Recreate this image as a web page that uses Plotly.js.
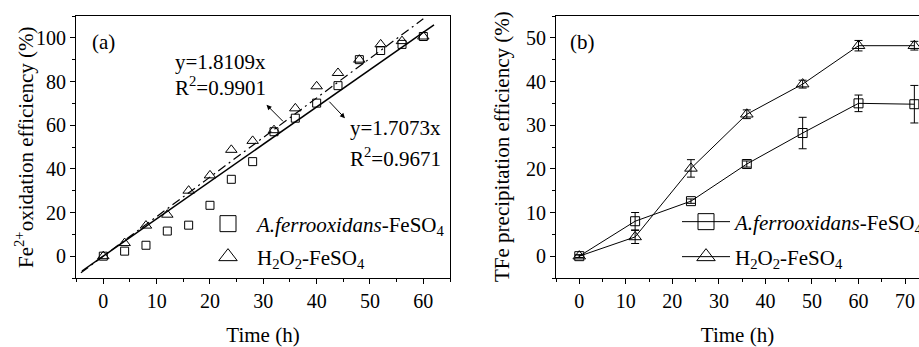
<!DOCTYPE html>
<html><head><meta charset="utf-8">
<script src="https://cdn.plot.ly/plotly-3.0.1.min.js"></script>
<style>html,body{margin:0;padding:0;background:#fff}#chart{width:919px;height:347px}</style>
</head><body><div id="chart"></div>
<script>
// ---- panel (a) data ----
const timeA = [0, 4, 8, 12, 16, 20, 24, 28, 32, 36, 40, 44, 48, 52, 56, 60];
const bioA  = [0, 2.3, 5.0, 11.5, 14.2, 23.3, 35.2, 43.3, 57.0, 63.2, 70.1, 78.1, 90.0, 94.2, 97.0, 100.6];
const h2o2A = [0, 6.0, 14.0, 19.0, 30.0, 37.0, 48.7, 52.8, 57.7, 67.7, 77.8, 83.9, 90.0, 97.0, 98.5, 100.6];
const fitBioX = [-4, 62];
const fitBioY = [-6.8, 105.9];
const fitH2X  = [-4.2, 60];
const fitH2Y  = [-7.6, 108.7];
// ---- panel (b) data ----
const timeB    = [0, 12, 24, 36, 48, 60, 72];
const bioB     = [0, 8.0, 12.6, 21.1, 28.2, 35.0, 34.8];
const bioBErr  = [0.3, 2.0, 0.5, 0.7, 3.6, 1.9, 4.3];
const h2o2B    = [0, 4.4, 20.1, 32.5, 39.4, 48.2, 48.2];
const h2o2BErr = [0.3, 1.5, 2.0, 1.0, 0.9, 1.2, 1.0];
// ---- labels ----
const nameBio = '<i>A.ferrooxidans</i>-FeSO<sub>4</sub>';
const nameH2  = 'H<sub>2</sub>O<sub>2</sub>-FeSO<sub>4</sub>';
const yTitleA = 'Fe<sup>2+</sup>oxidation efficiency (%)';
const yTitleB = 'TFe precipitation efficiency (%)';
const xTitle  = 'Time (h)';

const F = 'Liberation Serif, Times New Roman, serif';
const K = '#000';

const traces = [
  // panel a
  {x: fitBioX, y: fitBioY, mode: 'lines', line: {color: K, width: 1.5}, showlegend: false, xaxis: 'x', yaxis: 'y', hoverinfo: 'skip'},
  {x: fitH2X, y: fitH2Y, mode: 'lines', line: {color: K, width: 1.2, dash: '9px,4px,2px,4px'}, showlegend: false, xaxis: 'x', yaxis: 'y', hoverinfo: 'skip'},
  {x: timeA, y: bioA, mode: 'markers', marker: {symbol: 'square-open', size: 8, color: K, line: {width: 1, color: K}}, showlegend: false, xaxis: 'x', yaxis: 'y'},
  {x: timeA, y: h2o2A, mode: 'markers', marker: {symbol: 'triangle-up-open', size: 10, color: K, line: {width: 1, color: K}}, showlegend: false, xaxis: 'x', yaxis: 'y'},
  // legend entries panel a
  {x: [null], y: [null], mode: 'markers', name: nameBio, marker: {symbol: 'square-open', size: 16, color: K, line: {width: 1, color: K}}, legend: 'legend', xaxis: 'x', yaxis: 'y'},
  {x: [null], y: [null], mode: 'markers', name: nameH2, marker: {symbol: 'triangle-up-open', size: 16, color: K, line: {width: 1, color: K}}, legend: 'legend2', xaxis: 'x', yaxis: 'y'},
  // panel b
  {x: timeB, y: bioB, mode: 'lines+markers', line: {color: K, width: 1},
   marker: {symbol: 'square-open', size: 9, color: K, line: {width: 1, color: K}},
   error_y: {type: 'data', array: bioBErr, visible: true, color: K, thickness: 1, width: 4},
   showlegend: false, xaxis: 'x2', yaxis: 'y2'},
  {x: timeB, y: h2o2B, mode: 'lines+markers', line: {color: K, width: 1},
   marker: {symbol: 'triangle-up-open', size: 11, color: K, line: {width: 1, color: K}},
   error_y: {type: 'data', array: h2o2BErr, visible: true, color: K, thickness: 1, width: 4},
   showlegend: false, xaxis: 'x2', yaxis: 'y2'},
  // legend entries panel b
  {x: [null], y: [null], mode: 'lines+markers', name: nameBio, line: {color: K, width: 1}, marker: {symbol: 'square-open', size: 16, color: K, line: {width: 1, color: K}}, legend: 'legend3', xaxis: 'x2', yaxis: 'y2'},
  {x: [null], y: [null], mode: 'lines+markers', name: nameH2, line: {color: K, width: 1}, marker: {symbol: 'triangle-up-open', size: 16, color: K, line: {width: 1, color: K}}, legend: 'legend4', xaxis: 'x2', yaxis: 'y2'}
];

const W = 919, H = 347;
const yDom = [(H - 278) / H, (H - 16) / H];
const tickFont = {family: F, size: 20, color: K};
const titleFont = {family: F, size: 21, color: K};
function ax(extra) {
  return Object.assign({
    showline: true, linecolor: K, linewidth: 1, ticks: 'outside', ticklen: 5, tickwidth: 1, tickcolor: K,
    showgrid: false, zeroline: false, tickfont: tickFont, tick0: 0
  }, extra);
}
function minorOut(d) { return {dtick: d, ticks: 'outside', ticklen: 3, tickwidth: 1, tickcolor: K, showgrid: false}; }
function minorIn(d) { return {dtick: d, ticks: 'inside', ticklen: 2, tickwidth: 1, tickcolor: K, showgrid: false}; }
function mirrorAx(extra) {
  return Object.assign({
    showline: false, ticks: 'inside', ticklen: 4, tickwidth: 1, tickcolor: K, showticklabels: false,
    showgrid: false, zeroline: false, tick0: 0
  }, extra);
}
function leg(cx, cy) {
  return {x: (cx - 29) / W, xanchor: 'left', y: (H - cy) / H, yanchor: 'middle', itemwidth: 48,
          font: {family: F, size: 21, color: K}, bgcolor: 'rgba(0,0,0,0)', borderwidth: 0};
}
const annFont = {family: F, size: 21, color: K};
function txt(x, y, text, xref, yref) {
  return {x: x, y: y, xref: xref, yref: yref, text: text, showarrow: false, xanchor: 'left', yanchor: 'middle', font: annFont};
}
function vtitle(px, text) {
  return {x: px / W, y: (H - 147) / H, xref: 'paper', yref: 'paper', text: text, textangle: -90,
          showarrow: false, xanchor: 'center', yanchor: 'middle', font: titleFont};
}
function arrow(x, y, axp, ayp) {
  return {x: x, y: y, xref: 'x', yref: 'y', text: '', showarrow: true, ax: axp, ay: ayp,
          arrowhead: 2, arrowsize: 1, arrowwidth: 1, arrowcolor: K, standoff: 0, startstandoff: 0};
}

const layout = {
  width: W, height: H,
  margin: {l: 0, r: 0, t: 0, b: 0, autoexpand: false},
  paper_bgcolor: '#fff', plot_bgcolor: '#fff',
  font: {family: F, color: K},
  xaxis: ax({domain: [76 / W, 450 / W], range: [-5.12, 65], dtick: 10, minor: minorOut(5), anchor: 'y', mirror: true,
             title: {text: xTitle, font: titleFont, standoff: 18}}),
  yaxis: ax({domain: yDom, range: [-10, 110], dtick: 20, minor: minorOut(10), anchor: 'x', mirror: true}),
  xaxis3: mirrorAx({overlaying: 'x', side: 'top', anchor: 'y', range: [-5.12, 65], dtick: 10, minor: minorIn(5)}),
  yaxis3: mirrorAx({overlaying: 'y', side: 'right', anchor: 'x', range: [-10, 110], dtick: 20, minor: minorIn(10)}),
  xaxis2: ax({domain: [556 / W, 1], range: [-5, 73], dtick: 10, minor: minorOut(5), anchor: 'y2', mirror: true,
              title: {text: xTitle, font: titleFont, standoff: 24}}),
  yaxis2: ax({domain: yDom, range: [-5, 55], dtick: 10, minor: minorOut(5), anchor: 'x2', mirror: false}),
  xaxis4: mirrorAx({overlaying: 'x2', side: 'top', anchor: 'y2', range: [-5, 73], dtick: 10, minor: minorIn(5)}),
  legend: leg(228, 224),
  legend2: leg(228, 257),
  legend3: leg(706, 222),
  legend4: leg(706, 257),
  annotations: [
    vtitle(24, yTitleA),
    vtitle(502, yTitleB),
    txt(-2.5, 98.1, '(a)', 'x', 'y'),
    txt(13.07, 88.9, 'y=1.8109x', 'x', 'y'),
    txt(13.07, 77.5, 'R<sup>2</sup>=0.9901', 'x', 'y'),
    txt(45.9, 58.7, 'y=1.7073x', 'x', 'y'),
    txt(45.9, 45.3, 'R<sup>2</sup>=0.9671', 'x', 'y'),
    txt(-2.43, 49.05, '(b)', 'x2', 'y2'),
    arrow(30.6, 69.3, 18, 18),
    arrow(45.3, 63.2, -17, -18)
  ],
  showlegend: true
};

Plotly.newPlot('chart', traces, layout, {staticPlot: true, displayModeBar: false});
</script>
</body></html>
